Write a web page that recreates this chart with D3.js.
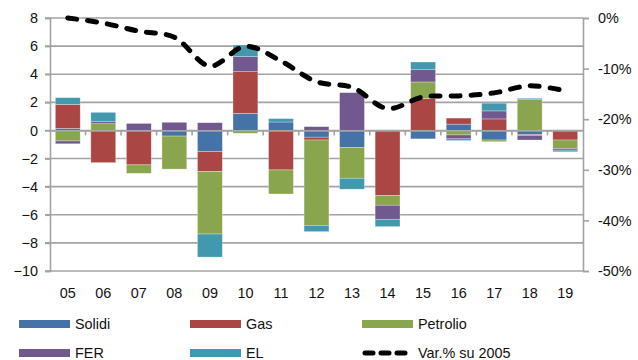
<!DOCTYPE html>
<html><head><meta charset="utf-8">
<script src="https://cdn.jsdelivr.net/npm/d3@7"></script>
<style>
body{margin:0;background:#fff;}
text{font-family:"Liberation Sans",Arial,sans-serif;fill:#111;}
</style></head>
<body><svg id="c" width="638" height="360"></svg>
<script>
const categories = ["05","06","07","08","09","10","11","12","13","14","15","16","17","18","19"];
const solidi   = [0.15, 0, 0, -0.4, -1.5, 1.22, 0.6, -0.48, -1.2, 0, -0.6, 0.45, -0.68, -0.3, 0];
const gas      = [1.71, -2.29, -2.45, 0, -1.42, 2.96, -2.81, -0.2, 0, -4.64, 2.28, 0.43, 0.82, -0.05, -0.68];
const petrolio = [-0.75, 0.48, -0.6, -2.35, -4.45, -0.2, -1.71, -6.07, -2.2, -0.68, 1.17, -0.32, -0.12, 2.19, -0.6];
const fer      = [-0.2, 0.14, 0.5, 0.58, 0.55, 1.07, 0, 0.27, 2.69, -1.0, 0.87, -0.28, 0.57, -0.33, -0.12];
const el       = [0.47, 0.67, 0, 0, -1.64, 0.83, 0.24, -0.45, -0.78, -0.52, 0.55, -0.12, 0.55, 0.1, -0.12];
const varPct   = [0, -1.0, -2.6, -3.8, -9.5, -5.6, -8.5, -12.6, -13.7, -17.9, -15.6, -15.4, -14.8, -13.4, -14.4];
const leftTicks = [8,6,4,2,0,-2,-4,-6,-8,-10];
const rightTicks = [0,-10,-20,-30,-40,-50];
const seriesNames = ["Solidi","Gas","Petrolio","FER","EL"];
const seriesColors = ["#4572A7","#AA4643","#89A54E","#71588F","#4198AF"];
const seriesData = [solidi, gas, petrolio, fer, el];

const FS = 14.4;
const svg = d3.select("#c");
const L = 50, R = 583, T = 18, B = 271;
const x = d3.scaleBand().domain(categories).range([L, R]).paddingInner(0.3).paddingOuter(0.15);
const y = d3.scaleLinear().domain([-10, 8]).range([B, T]);
const y2 = d3.scaleLinear().domain([-50, 0]).range([B, T]);
const grid = "#a3a3a3";

// gridlines
svg.append("g").selectAll("line").data(leftTicks).join("line")
  .attr("x1", L - 5).attr("x2", R).attr("y1", d => y(d)).attr("y2", d => y(d))
  .attr("stroke", grid).attr("stroke-width", 1.6);

// left axis
const ga = svg.append("g").attr("transform", `translate(${L},0)`)
  .call(d3.axisLeft(y).tickValues(leftTicks).tickSize(5).tickPadding(7).tickFormat(d3.format("d")));
ga.select(".domain").attr("stroke", grid).attr("stroke-width", 1.6);
ga.selectAll(".tick line").attr("stroke", grid).attr("stroke-width", 1.6);
ga.selectAll("text").attr("font-size", FS).style("font-family", "Liberation Sans, Arial, sans-serif").attr("fill", "#111");

// right axis
const gr = svg.append("g").attr("transform", `translate(${R},0)`)
  .call(d3.axisRight(y2).tickValues(rightTicks).tickSize(6).tickPadding(9).tickFormat(d => d + "%"));
gr.select(".domain").attr("stroke", grid).attr("stroke-width", 1.6);
gr.selectAll(".tick line").attr("stroke", grid).attr("stroke-width", 1.6);
gr.selectAll("text").attr("font-size", FS).style("font-family", "Liberation Sans, Arial, sans-serif").attr("fill", "#111");

// stacked bars (positive and negative separately)
const rects = [];
categories.forEach((c, i) => {
  let pos = 0, neg = 0;
  seriesData.forEach((s, k) => {
    const v = s[i];
    if (v === 0) return;
    let y0, y1;
    if (v > 0) { y0 = pos; y1 = pos + v; pos = y1; }
    else { y0 = neg; y1 = neg + v; neg = y1; }
    rects.push({c, k, y0, y1});
  });
});
svg.append("g").selectAll("rect").data(rects).join("rect")
  .attr("x", d => x(d.c)).attr("width", x.bandwidth())
  .attr("y", d => y(Math.max(d.y0, d.y1)))
  .attr("height", d => Math.abs(y(d.y0) - y(d.y1)))
  .attr("fill", d => seriesColors[d.k])
  .attr("stroke", "#ffffff").attr("stroke-opacity", 0.5).attr("stroke-width", 0.6);

// category axis at zero
const gx = svg.append("g").attr("transform", `translate(0,${y(0)})`)
  .call(d3.axisBottom(x).tickSize(0).tickFormat(""));
gx.select(".domain").attr("stroke", grid).attr("stroke-width", 1.6);
const step = x.step();
svg.append("g").selectAll("line").data(d3.range(1, categories.length)).join("line")
  .attr("x1", d => L + d * step).attr("x2", d => L + d * step)
  .attr("y1", y(0)).attr("y2", y(0) + 5).attr("stroke", grid).attr("stroke-width", 1.6);
svg.append("g").selectAll("text").data(categories).join("text")
  .attr("x", d => x(d) + x.bandwidth() / 2).attr("y", 298)
  .attr("text-anchor", "middle").attr("font-size", FS).text(d => d);

// dashed line
const line = d3.line().x((d, i) => x(categories[i]) + x.bandwidth() / 2).y(d => y2(d))
  .curve(d3.curveCatmullRom.alpha(0.5));
svg.append("path").datum(varPct).attr("d", line).attr("fill", "none")
  .attr("stroke", "#000").attr("stroke-width", 5).attr("stroke-linecap", "round")
  .attr("stroke-dasharray", "9,11");

// legend
const legendItems = [
  {name:"Solidi", k:0, x:19, y:324}, {name:"Gas", k:1, x:190, y:324}, {name:"Petrolio", k:2, x:362, y:324},
  {name:"FER", k:3, x:19, y:353}, {name:"EL", k:4, x:190, y:353}, {name:"Var.% su 2005", k:-1, x:362, y:353}
];
const lg = svg.append("g");
legendItems.forEach(it => {
  if (it.k >= 0) {
    lg.append("rect").attr("x", it.x).attr("y", it.y - 4).attr("width", 51).attr("height", 8)
      .attr("fill", seriesColors[it.k]);
  } else {
    lg.append("line").attr("x1", it.x + 3).attr("x2", it.x + 48).attr("y1", it.y).attr("y2", it.y)
      .attr("stroke", "#000").attr("stroke-width", 5).attr("stroke-linecap", "round")
      .attr("stroke-dasharray", "8,8");
  }
  lg.append("text").attr("x", it.x + 56).attr("y", it.y + 5.3).attr("font-size", FS).text(it.name);
});
</script></body></html>
